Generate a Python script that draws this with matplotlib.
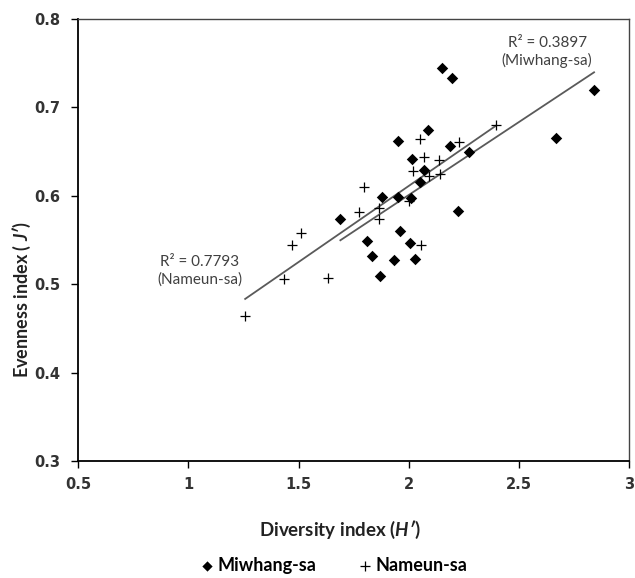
import numpy as np
import matplotlib
matplotlib.use("Agg")
import matplotlib.pyplot as plt

# === Daten ===
miwhang_h = [2.151, 2.195, 2.841, 2.670, 2.088, 1.950, 2.186, 2.272, 2.013, 2.071,
             2.053, 1.879, 1.950, 2.009, 1.690, 2.222, 1.961, 1.810, 2.006, 1.832,
             1.935, 2.029, 1.868]
miwhang_j = [0.745, 0.733, 0.720, 0.665, 0.675, 0.662, 0.656, 0.650, 0.642, 0.629,
             0.616, 0.599, 0.599, 0.597, 0.574, 0.583, 0.560, 0.549, 0.547, 0.532,
             0.527, 0.529, 0.509]

nameun_h = [1.258, 1.433, 1.471, 1.512, 1.636, 1.773, 1.795, 1.864, 1.867, 2.000,
            2.021, 2.053, 2.071, 2.090, 2.136, 2.143, 2.226, 2.397, 2.056]
nameun_j = [0.464, 0.506, 0.544, 0.558, 0.507, 0.582, 0.610, 0.586, 0.574, 0.594,
            0.628, 0.664, 0.644, 0.622, 0.640, 0.625, 0.661, 0.680, 0.544]

r2_labels = ["R\u00b2 = 0.3897\n(Miwhang-sa)", "R\u00b2 = 0.7793\n(Nameun-sa)"]

# === Schrift ===
plt.rcParams["font.family"] = ["Lato", "DejaVu Sans"]
plt.rcParams["mathtext.fontset"] = "custom"
plt.rcParams["mathtext.bfit"] = "Lato:bold:italic"
plt.rcParams["mathtext.it"] = "Lato:italic"
plt.rcParams["mathtext.bf"] = "Lato:bold"
plt.rcParams["mathtext.rm"] = "Lato"

fig = plt.figure(figsize=(6.35, 5.78), dpi=100)
ax = fig.add_axes([0.123, 0.2024, 0.8677, 0.7647])

ax.scatter(miwhang_h, miwhang_j, marker="D", s=34, color="black", linewidths=0,
           label="Miwhang-sa", zorder=3)
ax.scatter(nameun_h, nameun_j, marker="+", s=60, color="black", linewidths=0.9,
           label="Nameun-sa", zorder=3)

# lineare Trendlinien
for xs, ys in [(miwhang_h, miwhang_j), (nameun_h, nameun_j)]:
    k, d = np.polyfit(xs, ys, 1)
    xx = np.array([min(xs), max(xs)])
    ax.plot(xx, k * xx + d, color="#5a5a5a", lw=1.3, zorder=2)

ax.text(2.628, 0.763, r2_labels[0], ha="center", va="center", fontsize=11,
        color="#404040", linespacing=1.25)
ax.text(1.051, 0.515, r2_labels[1], ha="center", va="center", fontsize=11,
        color="#404040", linespacing=1.25)

ax.set_xlim(0.5, 3)
ax.set_ylim(0.3, 0.8)
ax.set_xticks([0.5, 1, 1.5, 2, 2.5, 3])
ax.set_xticklabels(["0.5", "1", "1.5", "2", "2.5", "3"])
ax.set_yticks([0.3, 0.4, 0.5, 0.6, 0.7, 0.8])
ax.tick_params(direction="out", length=5, width=1, colors="black")
ax.tick_params(axis="x", pad=6.5)
ax.tick_params(axis="y", pad=8)
for lbl in ax.get_xticklabels() + ax.get_yticklabels():
    lbl.set_fontfamily("DejaVu Sans")
    lbl.set_fontweight("bold")
    lbl.set_fontsize(10.5)
    lbl.set_color("#333333")

for side in ["left", "bottom"]:
    ax.spines[side].set_linewidth(1.3)
    ax.spines[side].set_color("black")
for side in ["top", "right"]:
    ax.spines[side].set_linewidth(1.0)
    ax.spines[side].set_color("#444444")

ax.set_xlabel(r"Diversity index ($\mathbfit{H}$$\mathbfit{\prime}$)", fontsize=13.5,
              fontweight="bold", color="#222222")
ax.set_ylabel(r"Evenness index ( $\mathbfit{J}$$\mathbfit{\prime}$)", fontsize=13,
              fontweight="bold", color="#222222")
ax.xaxis.set_label_coords(0.475, -0.156)
ax.yaxis.set_label_coords(-0.102, 0.364)
ax.xaxis.label.set_va("center")
ax.yaxis.label.set_va("center")

fig.legend(loc="center", bbox_to_anchor=(0.524, 0.022), ncol=2, frameon=False,
           prop={"weight": "bold", "size": 13}, handletextpad=0.1,
           handlelength=1.0, columnspacing=2.2, markerscale=0.9)

fig.savefig("out.png", dpi=100)
